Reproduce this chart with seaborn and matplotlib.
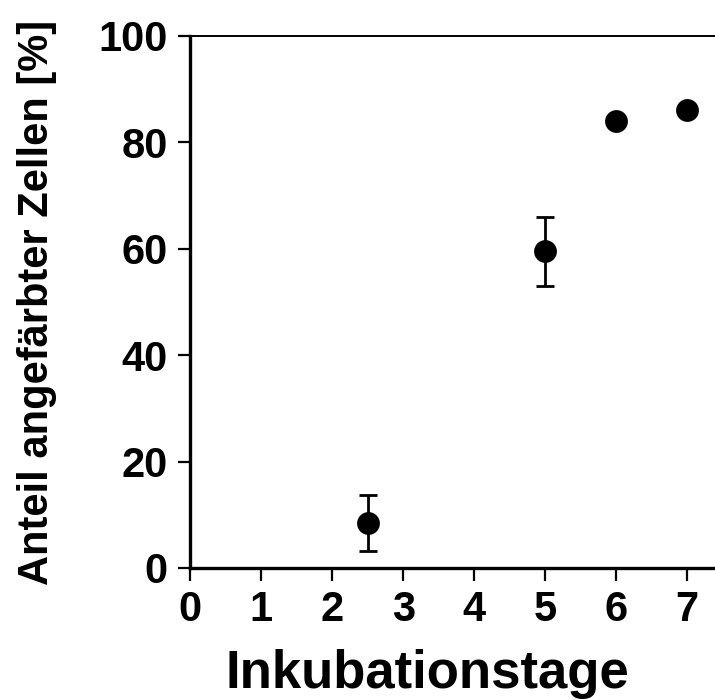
import matplotlib
matplotlib.use('Agg')

import numpy as np
import pandas as pd
import matplotlib.pyplot as plt
import seaborn as sns

# Daten
tage = [2.5, 5, 6, 7]
anteil = [8.5, 59.5, 84.0, 86.0]
fehler = [5.3, 6.5, 0, 0]
x_ticks = [0, 1, 2, 3, 4, 5, 6, 7]
y_ticks = [0, 20, 40, 60, 80, 100]

df = pd.DataFrame({'Tage': tage, 'Anteil': anteil, 'Fehler': fehler})

sns.set_style('white')
plt.rcParams['font.family'] = ['Liberation Sans', 'DejaVu Sans']
plt.rcParams['font.weight'] = 'bold'
plt.rcParams['text.color'] = 'black'
plt.rcParams['axes.labelcolor'] = 'black'
plt.rcParams['xtick.color'] = 'black'
plt.rcParams['ytick.color'] = 'black'

fig = plt.figure(figsize=(7.15, 7.0), dpi=100)
ax = fig.add_axes([0.2657, 0.1886, 0.7343, 0.76])

# Fehlerbalken
mit_fehler = df[df['Fehler'] > 0]
ax.errorbar(mit_fehler['Tage'], mit_fehler['Anteil'], yerr=mit_fehler['Fehler'],
            fmt='none', ecolor='black', elinewidth=2.0, capsize=6.5, capthick=2.0, zorder=2)

sns.scatterplot(data=df, x='Tage', y='Anteil', color='black', s=270, edgecolor='black',
                linewidth=0, ax=ax, zorder=3, legend=False)

ax.set_xlim(0, 7.39)
ax.set_ylim(0, 100)
ax.set_xticks(x_ticks)
ax.set_yticks(y_ticks)
ax.tick_params(axis='both', which='major', direction='out', length=9, width=1.6,
               labelsize=30, pad=7, colors='black', bottom=True, left=True)
for lab in ax.get_xticklabels() + ax.get_yticklabels():
    lab.set_fontweight('bold')

ax.spines['right'].set_visible(False)
ax.spines['left'].set_linewidth(2.4)
ax.spines['bottom'].set_linewidth(2.4)
ax.spines['top'].set_linewidth(1.4)
for s in ['left', 'bottom', 'top']:
    ax.spines[s].set_color('black')

ax.set_xlabel('Inkubationstage', fontsize=38, fontweight='bold')
ax.xaxis.set_label_coords(0.453, -0.152)
ax.xaxis.label.set_verticalalignment('top')
ax.set_ylabel('Anteil angefärbter Zellen [%]', fontsize=30, fontweight='bold', labelpad=30)

plt.savefig('out.png', dpi=100)
